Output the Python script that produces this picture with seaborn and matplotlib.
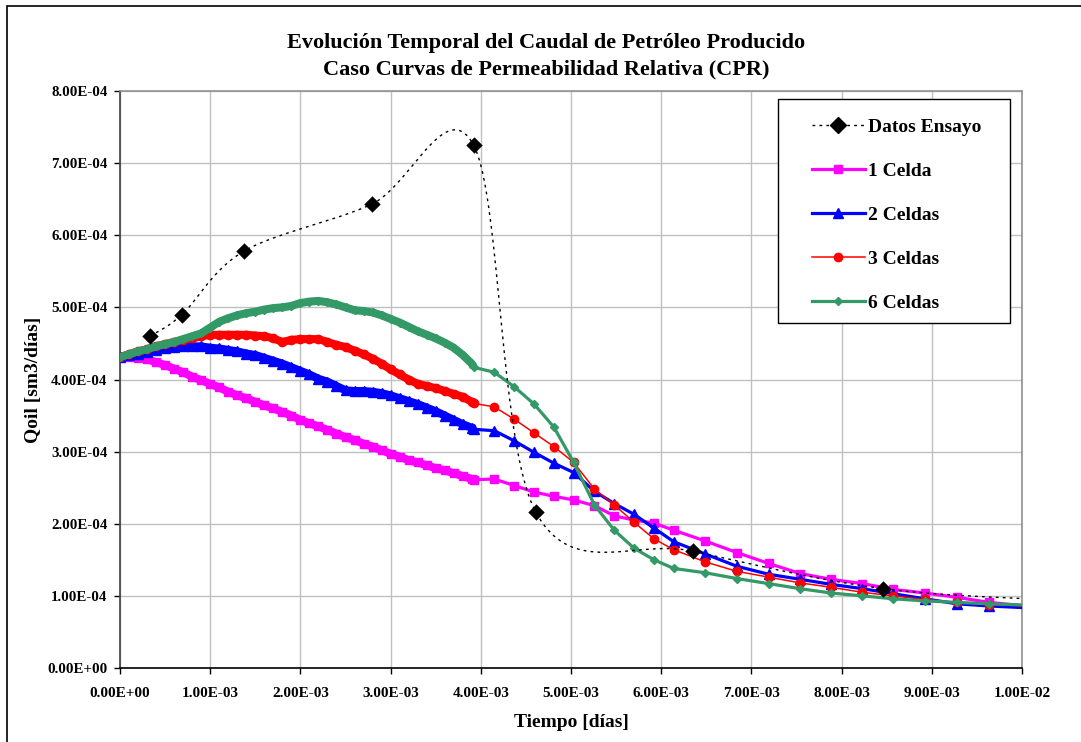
import numpy as np
import pandas as pd
import seaborn as sns
import matplotlib.pyplot as plt
from matplotlib.lines import Line2D
from matplotlib.patches import Rectangle
from matplotlib.ticker import FuncFormatter

# unidades: tiempo en 1e-3 dias, caudal en 1e-4 sm3/dia
T_UNIT = 1e-3
Q_UNIT = 1e-4

# pasos de tiempo de la simulacion (parte densa y parte espaciada)
t_dense = [0.0, 0.1, 0.2, 0.3, 0.4, 0.5, 0.6, 0.7, 0.8, 0.9,
           1.0, 1.1, 1.2, 1.3, 1.4, 1.5, 1.6, 1.7, 1.8, 1.9,
           2.0, 2.1, 2.2, 2.3, 2.4, 2.5, 2.6, 2.7, 2.8, 2.9,
           3.0, 3.1, 3.2, 3.3, 3.4, 3.5, 3.6, 3.7, 3.8, 3.9, 3.92]
t_sparse = [4.15, 4.37, 4.59, 4.81, 5.03, 5.26, 5.48, 5.70, 5.92, 6.14,
            6.49, 6.84, 7.19, 7.54, 7.88, 8.23, 8.57, 8.92, 9.28, 9.63, 10.3]

q1_dense = [4.31, 4.31, 4.30, 4.28, 4.24, 4.20, 4.15, 4.10, 4.04, 3.99,
            3.94, 3.89, 3.83, 3.78, 3.74, 3.69, 3.64, 3.60, 3.55, 3.50,
            3.44, 3.39, 3.35, 3.30, 3.25, 3.20, 3.16, 3.11, 3.07, 3.02,
            2.97, 2.93, 2.88, 2.85, 2.81, 2.77, 2.74, 2.70, 2.66, 2.62, 2.61]
q1_sparse = [2.62, 2.53, 2.44, 2.38, 2.33, 2.25, 2.11, 2.05, 2.01, 1.91,
             1.76, 1.60, 1.45, 1.31, 1.23, 1.17, 1.09, 1.04, 0.98, 0.91, 0.83]

q2_dense = [4.31, 4.34, 4.36, 4.38, 4.41, 4.43, 4.45, 4.46, 4.46, 4.46,
            4.44, 4.43, 4.41, 4.39, 4.36, 4.34, 4.30, 4.26, 4.22, 4.17,
            4.12, 4.07, 4.01, 3.97, 3.91, 3.85, 3.84, 3.84, 3.83, 3.81,
            3.78, 3.74, 3.70, 3.66, 3.61, 3.56, 3.50, 3.44, 3.38, 3.33, 3.31]
q2_sparse = [3.29, 3.15, 2.99, 2.84, 2.71, 2.45, 2.28, 2.13, 1.94, 1.75,
             1.58, 1.41, 1.30, 1.23, 1.16, 1.10, 1.03, 0.96, 0.89, 0.86, 0.82]

q3_dense = [4.31, 4.35, 4.39, 4.42, 4.46, 4.49, 4.52, 4.55, 4.57, 4.60,
            4.62, 4.62, 4.62, 4.62, 4.62, 4.61, 4.60, 4.57, 4.52, 4.55,
            4.56, 4.56, 4.56, 4.52, 4.48, 4.45, 4.40, 4.35, 4.29, 4.22,
            4.14, 4.07, 4.00, 3.94, 3.91, 3.88, 3.84, 3.80, 3.76, 3.69, 3.67]
q3_sparse = [3.62, 3.45, 3.26, 3.07, 2.85, 2.48, 2.26, 2.02, 1.79, 1.64,
             1.47, 1.34, 1.26, 1.18, 1.12, 1.05, 1.00, 0.95, 0.91, 0.88, 0.85]

q6_dense = [4.31, 4.35, 4.39, 4.42, 4.46, 4.49, 4.52, 4.56, 4.60, 4.64,
            4.72, 4.80, 4.85, 4.89, 4.92, 4.94, 4.97, 4.99, 5.00, 5.02,
            5.06, 5.08, 5.09, 5.07, 5.04, 5.00, 4.96, 4.95, 4.93, 4.89,
            4.84, 4.79, 4.73, 4.67, 4.62, 4.57, 4.51, 4.44, 4.34, 4.22, 4.17]
q6_sparse = [4.10, 3.90, 3.66, 3.34, 2.85, 2.26, 1.91, 1.66, 1.50, 1.38,
             1.32, 1.24, 1.17, 1.10, 1.04, 1.00, 0.96, 0.93, 0.91, 0.89, 0.86]

# datos del ensayo
t_ensayo = [0.333, 0.687, 1.375, 2.79, 3.92, 4.61, 6.35, 8.46, 10.6]
q_ensayo = [4.60, 4.90, 5.78, 6.43, 7.25, 2.16, 1.62, 1.10, 0.93]

series = ["1 Celda", "2 Celdas", "3 Celdas", "6 Celdas"]
q_dense_all = [q1_dense, q2_dense, q3_dense, q6_dense]
q_all = [q1_dense + q1_sparse, q2_dense + q2_sparse,
         q3_dense + q3_sparse, q6_dense + q6_sparse]
t_all = t_dense + t_sparse

df = pd.DataFrame({
    "t": np.tile(np.array(t_all) * T_UNIT, len(series)),
    "q": np.concatenate([np.array(q) * Q_UNIT for q in q_all]),
    "serie": np.repeat(series, len(t_all)),
})


def smooth_line(xs, ys, n=40):
    # curva suavizada tipo Excel (Bezier / Catmull-Rom)
    P = np.column_stack([xs, ys])
    out = []
    for i in range(len(P) - 1):
        p0 = P[max(i - 1, 0)]
        p1 = P[i]
        p2 = P[i + 1]
        p3 = P[min(i + 2, len(P) - 1)]
        c1 = p1 + (p2 - p0) / 6
        c2 = p2 - (p3 - p1) / 6
        s = np.linspace(0, 1, n)[:, None]
        seg = ((1 - s) ** 3) * p1 + 3 * ((1 - s) ** 2) * s * c1 \
            + 3 * (1 - s) * s ** 2 * c2 + s ** 3 * p2
        out.append(seg)
    out = np.vstack(out)
    return out[:, 0], out[:, 1]


plt.rcParams['font.family'] = ['Liberation Serif', 'DejaVu Serif']
plt.rcParams['font.weight'] = 'bold'

fig = plt.figure(figsize=(10.81, 7.42), dpi=100)
ax = fig.add_axes([120 / 1081, 74 / 742, 902 / 1081, 577 / 742])

styles = {
    "1 Celda": dict(color="#ff00ff", marker="s", markersize=5.5, linewidth=2.3),
    "2 Celdas": dict(color="#0000ff", marker="^", markersize=6.5, linewidth=2.3),
    "3 Celdas": dict(color="#ff0000", marker="o", markersize=6.0, linewidth=1.1),
    "6 Celdas": dict(color="#339966", marker="D", markersize=4.2, linewidth=2.3),
}

for name, qd in zip(series, q_dense_all):
    st = styles[name]
    # banda gruesa de la parte con pasos de tiempo muy finos
    ax.plot(np.array(t_dense) * T_UNIT, np.array(qd) * Q_UNIT,
            color=st["color"], linewidth=5.8, solid_capstyle="butt",
            solid_joinstyle="round", zorder=3)
    sub = df[df["serie"] == name]
    sns.lineplot(data=sub, x="t", y="q", ax=ax, estimator=None, sort=False,
                 color=st["color"], linewidth=st["linewidth"],
                 marker=st["marker"], markersize=st["markersize"],
                 markeredgecolor=st["color"], markeredgewidth=1,
                 legend=False, zorder=3)

xs, ys = smooth_line(np.array(t_ensayo), np.array(q_ensayo))
sns.lineplot(x=xs * T_UNIT, y=ys * Q_UNIT, ax=ax, estimator=None, sort=False,
             color="black", linewidth=1.0, dashes=False, zorder=4)
ax.lines[-1].set_dashes((2, 3))
sns.scatterplot(x=np.array(t_ensayo) * T_UNIT, y=np.array(q_ensayo) * Q_UNIT,
                ax=ax, color="black", marker="D", s=70, edgecolor="black",
                linewidth=0, zorder=5, legend=False)

ax.set_xlim(0, 0.01)
ax.set_ylim(0, 8e-4)
ax.set_xticks(np.arange(0, 0.01001, 0.001))
ax.set_yticks(np.arange(0, 8.001e-4, 1e-4))
ax.xaxis.set_major_formatter(FuncFormatter(lambda v, p: f"{v:.2E}"))
ax.yaxis.set_major_formatter(FuncFormatter(lambda v, p: f"{v:.2E}"))
ax.grid(True, color="#c0c0c0", linewidth=1.0)
ax.set_axisbelow(True)
ax.tick_params(axis="y", direction="out", length=4, width=1, pad=5,
               labelsize=10.8)
ax.tick_params(axis="x", direction="out", length=4, width=1, pad=10,
               labelsize=11)
for lab in ax.get_xticklabels() + ax.get_yticklabels():
    lab.set_fontweight("bold")
ax.spines["left"].set_color("#404040")
ax.spines["bottom"].set_color("black")
ax.spines["top"].set_color("#909090")
ax.spines["right"].set_color("#909090")
for sp in ax.spines.values():
    sp.set_linewidth(1.2)

ax.set_xlabel("Tiempo [días]", fontsize=14, fontweight="bold")
ax.set_ylabel("Qoil [sm3/días]", fontsize=14, fontweight="bold")
ax.xaxis.set_label_coords(0.5, -0.08)
ax.yaxis.set_label_coords(-0.086, 0.5)

fig.text(546 / 1081, 1 - 56 / 742,
         "Evolución Temporal del Caudal de Petróleo Producido\n"
         "Caso Curvas de Permeabilidad Relativa (CPR)",
         ha="center", va="center", fontsize=16, fontweight="bold",
         linespacing=1.42)

handles = [Line2D([], [], color="black", linewidth=1.0, dashes=(2, 3),
                  marker="D", markersize=8, markerfacecolor="black",
                  markeredgecolor="black")]
for name in series:
    st = styles[name]
    handles.append(Line2D([], [], color=st["color"], linewidth=st["linewidth"],
                          marker=st["marker"], markersize=st["markersize"],
                          markeredgecolor=st["color"]))

# marco de la leyenda dibujado aparte (como en Excel)
ax.add_patch(Rectangle((0.7295, 0.598), 0.2572, 0.388, transform=ax.transAxes,
                       facecolor="white", edgecolor="black", linewidth=1.0,
                       zorder=9))
leg = ax.legend(handles, ["Datos Ensayo"] + series, loc="upper left",
                bbox_to_anchor=(0.7672, 0.953), borderaxespad=0,
                frameon=False, prop={"size": 14, "weight": "bold"},
                handlelength=2.7, handletextpad=0.2, labelspacing=1.36,
                borderpad=0)
leg.set_zorder(10)

fig.patches.append(Rectangle((7 / 1081, -0.05), 1.1, 1 - 6 / 742 + 0.05,
                             transform=fig.transFigure, fill=False,
                             edgecolor="black", linewidth=1.2))

fig.savefig("out.png", dpi=100)
